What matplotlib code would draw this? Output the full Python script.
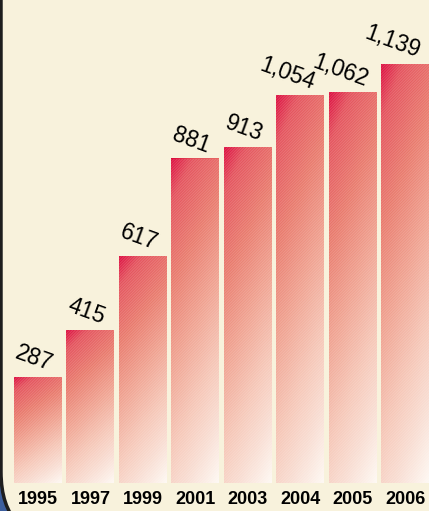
import numpy as np
import matplotlib
matplotlib.use("Agg")
import matplotlib.pyplot as plt
from matplotlib.colors import LinearSegmentedColormap
from matplotlib.patches import FancyBboxPatch

years = ['1995', '1997', '1999', '2001', '2003', '2004', '2005', '2006']
values = [287, 415, 617, 881, 913, 1054, 1062, 1139]

plt.rcParams['font.family'] = ['Liberation Sans', 'DejaVu Sans']
plt.rcParams['hatch.linewidth'] = 0.8

W, H = 429, 511
fig = plt.figure(figsize=(W / 100, H / 100), dpi=100)
fig.patch.set_facecolor('#3d5f9e')

# cream panel with rounded bottom-left corner (inches)
panel = FancyBboxPatch((0.01, -0.30), 6, 7, boxstyle='round,pad=0,rounding_size=0.69',
                       transform=fig.dpi_scale_trans, facecolor='#f8f2dc', edgecolor='#1e1e1e',
                       linewidth=2.5, zorder=-5)
fig.patches.append(panel)

ax = fig.add_axes([14 / W, 28 / H, 415 / W, 483 / H])
ax.set_facecolor('none')
ax.set_zorder(2)

cmap = LinearSegmentedColormap.from_list(
    'bar', [(0.0, '#dc0a3c'), (0.1, '#e4505a'), (0.3, '#e9786a'), (0.5, '#f0a08e'),
            (0.7, '#f6c6b6'), (0.85, '#f9ddd2'), (1.0, '#fef8f2')])
u = np.linspace(0, 1, 60)
v = np.linspace(0, 1, 200)
U, V = np.meshgrid(u, v)
grad = 0.22 * U + 0.78 * V

width = 0.915
x = np.arange(len(years))
for xi, val in zip(x, values):
    ax.imshow(grad, cmap=cmap, vmin=0, vmax=1, aspect='auto', interpolation='bilinear',
              origin='upper', extent=[xi - width / 2, xi + width / 2, 0, val], zorder=1)
bars = ax.bar(x, values, width=width, facecolor='none', edgecolor=(1, 1, 1, 0.16),
              linewidth=0, hatch='/' * 12, zorder=2)

for xi, val in zip(x, values):
    ax.annotate(f'{val:,}', (xi + width / 2, val), xytext=(-12, 6), textcoords='offset pixels',
                rotation=-20, rotation_mode='anchor', ha='right', va='baseline',
                fontsize=16.5, color='black')

ax.set_xlim(-width / 2, len(years) - 1 + width / 2)
ax.set_ylim(0, 1313)
ax.set_xticks(x)
ax.set_xticklabels(years, fontsize=13, fontweight='bold')
ax.tick_params(axis='x', length=0, pad=6)
ax.set_yticks([])
for s in ax.spines.values():
    s.set_visible(False)

fig.savefig('out.png', dpi=100, facecolor=fig.get_facecolor())
